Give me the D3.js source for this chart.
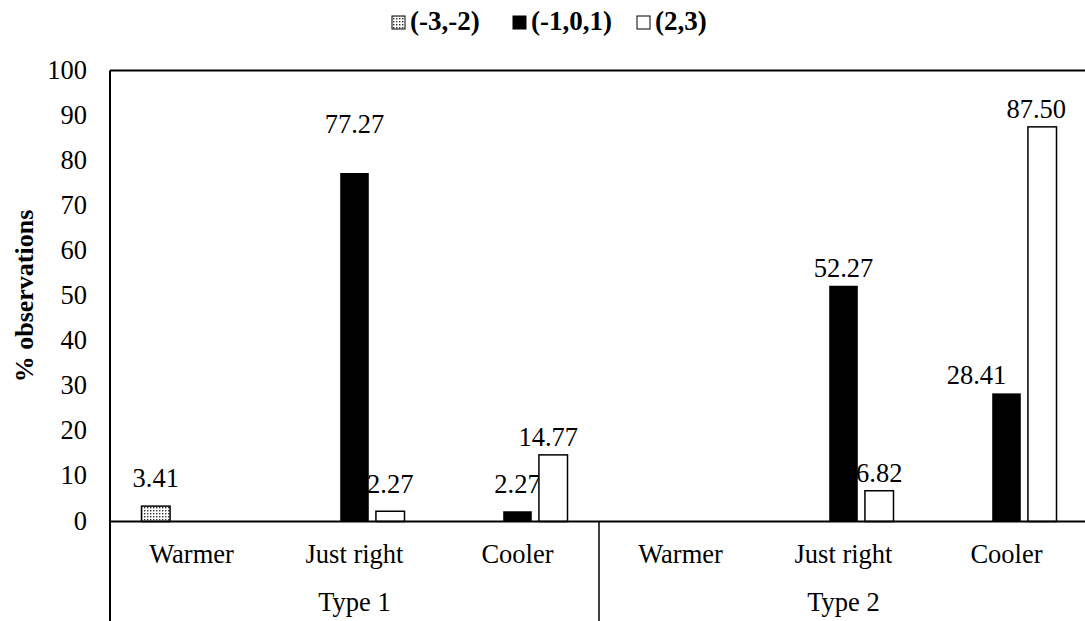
<!DOCTYPE html>
<html>
<head>
<meta charset="utf-8">
<script src="https://cdn.jsdelivr.net/npm/d3@7"></script>
<style>
  html, body { margin: 0; padding: 0; background: #fff; }
  svg { display: block; }
  text { font-family: "Liberation Serif", "Times New Roman", serif; fill: #000; }
</style>
</head>
<body>
<svg id="chart" width="1085" height="621"></svg>
<script>
// Categories along the x axis, grouped by type
const categories = ["Warmer", "Just right", "Cooler", "Warmer", "Just right", "Cooler"];
const groups = ["Type 1", "Type 2"];
const seriesNames = ["(-3,-2)", "(-1,0,1)", "(2,3)"];

// % observations per series, one value per category
const seriesA = [3.41, 0, 0, 0, 0, 0];
const seriesB = [0, 77.27, 2.27, 0, 52.27, 28.41];
const seriesC = [0, 2.27, 14.77, 0, 6.82, 87.50];

const yTicks = [0, 10, 20, 30, 40, 50, 60, 70, 80, 90, 100];

const svg = d3.select("#chart");
const plotLeft = 110, plotRight = 1088, plotTop = 70.5, plotZero = 521.5, plotBottom = 621;
const fs = 26.5;

// Hand-placed value labels: [dx, gap above bar top], keyed "series-category"
const labelPlace = {
  "0-0": [0, 19],
  "1-1": [0, 40],
  "1-2": [0, 18],
  "1-4": [0, 9],
  "1-5": [-30, 9],
  "2-1": [0, 18],
  "2-2": [-5, 9],
  "2-4": [0, 9],
  "2-5": [-6, 9]
};

// Dotted fill for the first series
const defs = svg.append("defs");
const pat = defs.append("pattern")
  .attr("id", "dots").attr("patternUnits", "userSpaceOnUse")
  .attr("width", 3).attr("height", 3);
pat.append("rect").attr("width", 3).attr("height", 3).attr("fill", "#fff");
pat.append("rect").attr("x", 0).attr("y", 0).attr("width", 1.4).attr("height", 1.4).attr("fill", "#333");

const idx = d3.range(categories.length);
const x = d3.scaleBand().domain(idx).range([plotLeft, plotRight]).padding(0);
const xs = d3.scaleBand().domain(d3.range(3)).range([-50, 50]).paddingInner(0.2).paddingOuter(0);
const y = d3.scaleLinear().domain([0, 100]).range([plotZero, plotTop]);

const fills = ["url(#dots)", "#000", "#fff"];
const allSeries = [seriesA, seriesB, seriesC];

// Frame lines: left axis, top border, group divider
svg.append("line").attr("x1", plotLeft).attr("x2", plotLeft).attr("y1", plotTop).attr("y2", plotBottom)
  .attr("stroke", "#000").attr("stroke-width", 2);
svg.append("line").attr("x1", plotLeft).attr("x2", plotRight).attr("y1", plotTop).attr("y2", plotTop)
  .attr("stroke", "#000").attr("stroke-width", 2);
svg.append("line").attr("x1", x(3)).attr("x2", x(3)).attr("y1", plotZero).attr("y2", plotBottom)
  .attr("stroke", "#000").attr("stroke-width", 1.5);

// Y tick labels
svg.append("g").selectAll("text").data(yTicks).join("text")
  .attr("x", 87).attr("y", d => y(d) + 8)
  .attr("text-anchor", "end").attr("font-size", fs)
  .text(d => d);

// Bars and value labels
allSeries.forEach((vals, s) => {
  const g = svg.append("g");
  const data = idx.filter(i => vals[i] > 0).map(i => ({ i, v: vals[i], p: labelPlace[s + "-" + i] || [0, 9] }));
  g.selectAll("rect").data(data).join("rect")
    .attr("x", d => x(d.i) + x.bandwidth() / 2 + xs(s))
    .attr("width", xs.bandwidth())
    .attr("y", d => y(d.v))
    .attr("height", d => y(0) - y(d.v))
    .attr("fill", fills[s])
    .attr("stroke", s === 1 ? "none" : "#000")
    .attr("stroke-width", 1.5);
  g.selectAll("text").data(data).join("text")
    .attr("x", d => x(d.i) + x.bandwidth() / 2 + xs(s) + xs.bandwidth() / 2 + d.p[0])
    .attr("y", d => y(d.v) - d.p[1])
    .attr("text-anchor", "middle").attr("font-size", fs)
    .text(d => d.v.toFixed(2));
});

// Baseline on top of bars
svg.append("line").attr("x1", plotLeft).attr("x2", plotRight).attr("y1", plotZero).attr("y2", plotZero)
  .attr("stroke", "#000").attr("stroke-width", 2);

// Category and group labels
svg.append("g").selectAll("text").data(idx).join("text")
  .attr("x", i => x(i) + x.bandwidth() / 2).attr("y", 562.5)
  .attr("text-anchor", "middle").attr("font-size", fs)
  .text(i => categories[i]);
svg.append("g").selectAll("text").data(groups).join("text")
  .attr("x", (d, j) => x(j * 3) + x.bandwidth() * 1.5).attr("y", 611)
  .attr("text-anchor", "middle").attr("font-size", fs)
  .text(d => d);

// Y axis title
svg.append("text")
  .attr("transform", `translate(33, ${(plotTop + plotZero) / 2}) rotate(-90)`)
  .attr("text-anchor", "middle").attr("font-size", 26).attr("font-weight", "bold")
  .text("% observations");

// Legend
const legendX = [392, 513, 637];
const lg = svg.append("g");
seriesNames.forEach((name, s) => {
  lg.append("rect").attr("x", legendX[s]).attr("y", 16).attr("width", 13).attr("height", 13)
    .attr("fill", fills[s]).attr("stroke", "#000").attr("stroke-width", 1);
  lg.append("text").attr("x", legendX[s] + 18).attr("y", 30)
    .attr("font-size", 27).attr("font-weight", "bold").text(name);
});
</script>
</body>
</html>
